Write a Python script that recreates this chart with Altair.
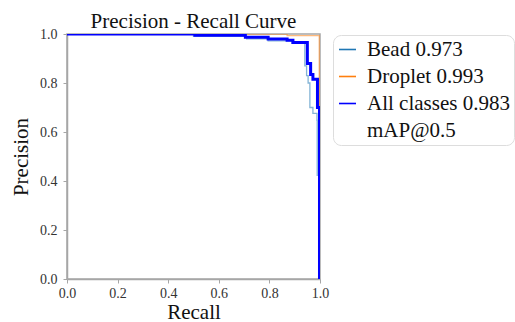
import altair as alt
import pandas as pd

# ---- data ----
LABELS = ["Bead 0.973", "Droplet 0.993", "All classes 0.983", "mAP@0.5"]
COLORS = ["#1f77b4", "#ff7f0e", "#0000ff", "rgba(0,0,0,0)"]
TITLE = "Precision - Recall Curve"

BEAD_R = [0.0, 0.50, 0.71, 0.795, 0.89, 0.94, 0.947, 0.953, 0.96, 0.972, 0.988, 0.989]
BEAD_P = [1.0, 0.99, 0.98, 0.972, 0.962, 0.87, 0.83, 0.80, 0.70, 0.676, 0.648, 0.42]

DROP_R = [0.0, 0.87, 0.997]
DROP_P = [1.0, 0.993, 0.0]

ALL_R = [0.0, 0.506, 0.705, 0.795, 0.87, 0.893, 0.95, 0.963, 0.972, 0.99, 0.998]
ALL_P = [1.0, 0.995, 0.987, 0.98, 0.975, 0.965, 0.88, 0.835, 0.815, 0.70, 0.0]

TICKS = [0.0, 0.2, 0.4, 0.6, 0.8, 1.0]

rows = []
for name, rr, pp in [(LABELS[0], BEAD_R, BEAD_P), (LABELS[1], DROP_R, DROP_P), (LABELS[2], ALL_R, ALL_P)]:
    for i, (r, p) in enumerate(zip(rr, pp)):
        rows.append({"series": name, "recall": r, "precision": p, "i": i})
df = pd.DataFrame(rows)

FONT = "Liberation Serif"
GRAY = "#a6a6a6"

color = alt.Color(
    "series:N",
    scale=alt.Scale(domain=LABELS, range=COLORS),
    legend=alt.Legend(
        title=None,
        orient="none",
        legendX=266,
        legendY=1,
        symbolType="stroke",
        symbolSize=289,
        symbolStrokeWidth=1.6,
        symbolOpacity=1,
        labelFont=FONT,
        labelFontSize=21,
        labelColor="#111111",
        labelOffset=9,
        labelLimit=300,
        rowPadding=5,
        padding=4,
        strokeColor="#dddddd",
        cornerRadius=8,
        fillColor="white",
    ),
)

x = alt.X(
    "recall:Q",
    scale=alt.Scale(domain=[0, 1], nice=False),
    axis=alt.Axis(
        title="Recall",
        values=TICKS,
        format=".1f",
        grid=False,
        tickSize=4,
        labelFlush=False,
        labelPadding=3,
        titleY=22,
        titleBaseline="top",
    ),
)
y = alt.Y(
    "precision:Q",
    scale=alt.Scale(domain=[0, 1], nice=False),
    axis=alt.Axis(
        title="Precision",
        values=TICKS,
        format=".1f",
        grid=False,
        tickSize=4,
        labelFlush=False,
        labelPadding=6,
        titlePadding=8,
    ),
)

base = alt.Chart(df)
layers = []
for name, op, sw in [(LABELS[0], 0.55, 1.3), (LABELS[1], 0.55, 1.3), (LABELS[2], 1.0, 3.0)]:
    layers.append(
        base.transform_filter(alt.datum.series == name)
        .mark_line(interpolate="step-after", opacity=op, strokeWidth=sw, clip=True)
        .encode(x=x, y=y, color=color, order="i:Q")
    )

title = (
    alt.Chart(pd.DataFrame({"t": [TITLE]}))
    .mark_text(font=FONT, fontSize=21, color="#111111", baseline="alphabetic", align="center")
    .encode(text="t:N", x=alt.value(126.5), y=alt.value(-6))
)

chart = (
    alt.layer(*layers, title)
    .properties(
        width=253,
        height=245,
        autosize=alt.AutoSizeParams(type="none"),
        padding={"left": 67, "top": 34, "right": 195, "bottom": 43},
        background="white",
    )
    .configure_view(stroke=GRAY, strokeWidth=1.5)
    .configure_axis(
        domainColor=GRAY,
        domainWidth=1.5,
        tickColor=GRAY,
        labelFont=FONT,
        labelFontSize=14,
        labelColor="#333333",
        titleFont=FONT,
        titleFontSize=21,
        titleFontWeight="normal",
        titleColor="#111111",
    )
)

chart.save("out.html", embed_options={"renderer": "svg", "actions": False})
